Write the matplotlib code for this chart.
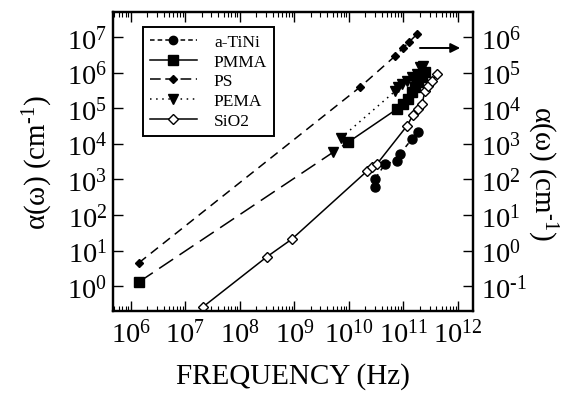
import matplotlib
matplotlib.use('Agg')
import matplotlib.pyplot as plt
import numpy as np
from matplotlib.lines import Line2D
from matplotlib.ticker import LogLocator, FixedLocator, FuncFormatter

plt.rcParams['font.family'] = ['Liberation Serif', 'DejaVu Serif']
plt.rcParams['mathtext.fontset'] = 'custom'
plt.rcParams['mathtext.rm'] = 'Liberation Serif'
plt.rcParams['mathtext.it'] = 'Liberation Serif:italic'

# values (frequency in Hz, absorption in cm^-1, left axis units)
ps_f = [1.4e6, 1.59e10, 6.98e10, 9.79e10, 1.26e11, 1.77e11]
ps_a = [4.5, 3.9e5, 2.9e6, 4.9e6, 7.2e6, 1.2e7]

pmma_f = [1.4e6, 9.6e9, 7.6e10, 9.8e10, 1.21e11, 1.43e11, 1.63e11, 1.85e11, 2.18e11, 2.48e11]
pmma_a = [1.3, 1.1e4, 9.5e4, 1.3e5, 1.8e5, 2.85e5, 3.9e5, 5.4e5, 7.5e5, 1.04e6]

pema_f = [5.1e9, 7.1e9, 7.0e10, 7.9e10, 9.4e10, 1.16e11, 1.43e11, 1.77e11, 2.0e11, 2.28e11]
pema_a = [5.9e3, 1.45e4, 3.0e5, 3.9e5, 4.8e5, 5.8e5, 7.5e5, 9.1e5, 1.44e6, 1.53e6]

sio2_f = [2.1e7, 3.1e8, 9.0e8, 2.14e10, 2.64e10, 3.26e10, 1.16e11, 1.49e11, 1.85e11,
          2.18e11, 2.48e11, 2.82e11, 3.34e11, 4.1e11]
sio2_a = [0.26, 6.6, 21, 1.7e3, 2.2e3, 2.7e3, 3.2e4, 6.4e4, 9.5e4,
          1.3e5, 3.0e5, 4.2e5, 5.8e5, 9.1e5]

tini_f = [3.0e10, 3.0e10, 4.6e10, 7.6e10, 8.6e10, 1.43e11, 1.85e11]
tini_a = [610, 1.03e3, 2.7e3, 3.3e3, 5.2e3, 1.36e4, 2.14e4]

labels = ['a-TiNi', 'PMMA', 'PS', 'PEMA', 'SiO2']


def pow10(v, pos):
    k = int(round(np.log10(v)))
    if k < 0:
        return r'$\mathdefault{10^{\text{-}%d}}$' % (-k)
    return r'$\mathdefault{10^{%d}}$' % k


fig = plt.figure(figsize=(5.73, 4.10), dpi=100)
ax = fig.add_axes([0.197, 0.239, 0.6285, 0.729])

lw = 1.1
# PS
ax.plot(ps_f, ps_a, color='k', lw=lw, linestyle=(0, (6, 4)), marker='D', ms=4.5, mfc='k')
# PMMA: long dashes for first stretch, solid afterwards
ax.plot(pmma_f[:2], pmma_a[:2], color='k', lw=lw, linestyle=(0, (11, 5)))
ax.plot(pmma_f[1:], pmma_a[1:], color='k', lw=lw, linestyle='-')
ax.plot(pmma_f, pmma_a, color='k', lw=0, marker='s', ms=6.5, mfc='k')
# PEMA
ax.plot(pema_f[1:], pema_a[1:], color='k', lw=lw, linestyle=(0, (1, 3)))
ax.plot(pema_f, pema_a, color='k', lw=0, marker='v', ms=6.5, mfc='k')
# SiO2
ax.plot(sio2_f, sio2_a, color='k', lw=lw, linestyle='-', marker='D', ms=5.5, mfc='white', mew=1.0)
# a-TiNi
ax.plot(tini_f, tini_a, color='k', lw=lw, linestyle=(0, (3, 3)), marker='o', ms=6.5, mfc='k')

ax.set_xscale('log')
ax.set_yscale('log')
ax.set_xlim(10**5.67, 10**12.275)
ax.set_ylim(10**-0.70, 10**7.70)

ax.xaxis.set_major_locator(LogLocator(base=10, numticks=20))
ax.xaxis.set_minor_locator(LogLocator(base=10, subs=np.arange(2, 10), numticks=20))
ax.xaxis.set_major_formatter(FuncFormatter(pow10))
ax.yaxis.set_major_locator(FixedLocator([10.0**k for k in range(0, 8)]))
ax.yaxis.set_minor_locator(FixedLocator([]))
ax.yaxis.set_major_formatter(FuncFormatter(pow10))

for s in ax.spines.values():
    s.set_linewidth(1.6)
ax.tick_params(axis='both', which='major', direction='in', length=7, width=1.0, labelsize=20.5)
ax.tick_params(axis='x', which='major', top=True, pad=6)
ax.tick_params(axis='x', which='minor', direction='in', top=True, length=3.5, width=0.8)
ax.tick_params(axis='y', which='major', pad=4)

ax.set_xlabel('FREQUENCY (Hz)', fontsize=21, labelpad=10)
ax.set_ylabel(r'α(ω) (cm$^{\mathregular{\text{-}1}}$)', fontsize=21)
ax.yaxis.set_label_coords(-0.16, 0.5)

# right axis: same data divided by 10
ax2 = ax.twinx()
ax2.set_yscale('log')
ax2.set_ylim(10**-1.70, 10**6.70)
ax2.yaxis.set_major_locator(FixedLocator([10.0**k for k in range(-1, 7)]))
ax2.yaxis.set_minor_locator(FixedLocator([]))
ax2.yaxis.set_major_formatter(FuncFormatter(pow10))
ax2.tick_params(axis='y', which='major', direction='in', length=7, width=1.0, labelsize=20.5, pad=6)
ax2.set_ylabel(r'α(ω) (cm$^{\mathregular{\text{-}1}}$)', fontsize=21, rotation=270)
ax2.yaxis.set_label_coords(1.24, 0.465)
for s in ax2.spines.values():
    s.set_linewidth(1.6)

ax.annotate('', xy=(0.972, 0.88), xytext=(0.845, 0.88), xycoords='axes fraction',
            arrowprops=dict(arrowstyle='-|>', color='k', lw=1.4, mutation_scale=14))

handles = [
    Line2D([], [], color='k', lw=lw, linestyle=(0, (3, 2)), marker='o', ms=6, mfc='k'),
    Line2D([], [], color='k', lw=lw, linestyle='-', marker='s', ms=6.5, mfc='k'),
    Line2D([], [], color='k', lw=lw, linestyle=(0, (7, 3)), marker='D', ms=4, mfc='k'),
    Line2D([], [], color='k', lw=lw, linestyle=(0, (1, 3)), marker='v', ms=6.5, mfc='k'),
    Line2D([], [], color='k', lw=lw, linestyle='-', marker='D', ms=5.5, mfc='white', mew=1.0),
]
leg = ax.legend(handles, labels, loc='upper left', bbox_to_anchor=(0.083, 0.95),
                borderaxespad=0, fontsize=12.5, handlelength=2.7, labelspacing=0.2,
                handletextpad=1.0, borderpad=0.4, fancybox=False, framealpha=1,
                edgecolor='k')
leg.get_frame().set_linewidth(1.4)
leg.set_zorder(5)

fig.savefig('out.png', dpi=100)
